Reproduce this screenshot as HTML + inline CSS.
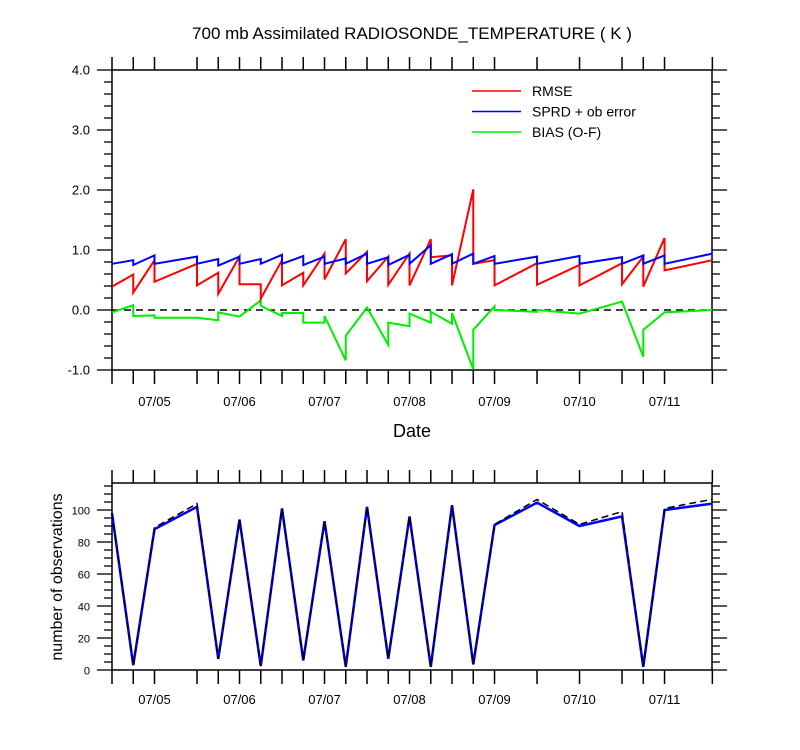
<!DOCTYPE html>
<html><head><meta charset="utf-8"><style>
body{margin:0;background:#fff;}
svg{display:block;font-family:"Liberation Sans",Arial,sans-serif;}
</style></head><body>
<svg id="chart" width="800" height="750" viewBox="0 0 800 750"></svg>
<script>
const times = [-12,-6,0,12,18,24,30,36,42,48,54,60,66,72,78,84,90,96,108,120,132,138,144,157.5];
const dayLabels = ["07/05","07/06","07/07","07/08","07/09","07/10","07/11"];
const rmseStart = [0.39,0.29,0.47,0.41,0.27,0.43,0.19,0.41,0.41,0.51,0.61,0.48,0.42,0.41,0.88,0.41,0.77,0.41,0.42,0.41,0.43,0.39,0.66];
const rmseEnd   = [0.59,0.83,0.77,0.62,0.89,0.43,0.83,0.62,0.94,1.18,0.97,0.89,0.94,1.18,0.91,2.01,0.83,0.78,0.75,0.78,0.89,1.20,0.83];
const sprdStart = [0.77,0.75,0.77,0.77,0.74,0.77,0.77,0.77,0.75,0.77,0.77,0.77,0.75,0.77,0.77,0.77,0.77,0.77,0.77,0.77,0.77,0.77,0.77];
const sprdEnd   = [0.83,0.91,0.89,0.85,0.89,0.85,0.92,0.90,0.89,0.86,0.94,0.88,0.92,1.08,0.93,0.94,0.90,0.89,0.90,0.88,0.91,0.91,0.94];
const biasStart = [-0.04,-0.10,-0.13,-0.13,-0.04,-0.11,0.07,-0.05,-0.21,-0.10,-0.43,0.04,-0.21,-0.06,-0.03,-0.05,-0.33,0.00,0.00,-0.06,0.14,-0.33,-0.04];
const biasEnd   = [0.08,-0.09,-0.13,-0.17,-0.11,0.16,-0.10,-0.05,-0.21,-0.84,0.04,-0.58,-0.27,-0.21,-0.23,-0.99,0.06,-0.03,-0.06,0.14,-0.78,-0.04,0.00];
const obsPossible = [98,3,89,104,7,94,2.5,101,6,93,2,102,7,96,2,103,3.5,91,106.6,91,99,2,101,106.7];
const obsUsed     = [98,3,88,102,7,94,2.5,101,6,93,2,102,7,96,2,103,3.5,90.6,104.6,90,96,2,100,104];
const topYTicks = [-1,0,1,2,3,4];
const botYTicks = [0,20,40,60,80,100];

const NS="http://www.w3.org/2000/svg";
const svg=document.getElementById('chart');
function el(tag,attrs,parent){const e=document.createElementNS(NS,tag);for(const k in attrs)e.setAttribute(k,attrs[k]);(parent||svg).appendChild(e);return e;}
const X0=112,X1=712,T0=-12,T1=157.4;
const xs=h=>X0+(h-T0)*(X1-X0)/(T1-T0);
const yTop=v=>310-v*60;
const yBot=v=>670-v*1.6;

const title=el('text',{x:412,y:39,'text-anchor':'middle','font-size':17});
title.textContent='700 mb Assimilated RADIOSONDE_TEMPERATURE ( K )';



function panel(name,yT,yB,ys,vmin,vmax,major,minor,ticks,fmt,fs,lblOff){
  const g=el('g',{});
  
  
  el('rect',{x:X0,y:yT,width:X1-X0,height:yB-yT,fill:'none',stroke:'#000','stroke-width':1.5},g);
  for(const t of times){
    el('line',{x1:xs(t),x2:xs(t),y1:yB,y2:yB+14,stroke:'#000','stroke-width':1.5},g);
    el('line',{x1:xs(t),x2:xs(t),y1:yT,y2:yT-13,stroke:'#000','stroke-width':1.5},g);
  }
  for(let v=vmin;v<=vmax+1e-9;v+=minor){
    const isMaj=Math.abs(v/major-Math.round(v/major))<1e-6;
    const L=isMaj?15:8, y=ys(v);
    el('line',{x1:X0-L,x2:X0,y1:y,y2:y,stroke:'#000','stroke-width':1.3},g);
    el('line',{x1:X1,x2:X1+L,y1:y,y2:y,stroke:'#000','stroke-width':1.3},g);
  }
  for(const v of ticks){
    const t=el('text',{x:X0-22,y:ys(v)+4.5,'text-anchor':'end','font-size':fs},g);
    t.textContent=fmt(v);
    
    
  }
  dayLabels.forEach((d,i)=>{
    const t=el('text',{x:xs(i*24),y:yB+lblOff,'text-anchor':'middle','font-size':13},g);
    t.textContent=d;
    
    
  });
  return g;
}
panel('top-panel',70,370,yTop,-1,4,1,0.2,topYTicks,v=>v.toFixed(1),13,36);
panel('bottom-panel',483,670,yBot,0,115,20,5,botYTicks,v=>String(v),11,34);

const zero=el('line',{x1:X0,x2:X1,y1:yTop(0),y2:yTop(0),stroke:'#000','stroke-width':1.5,'stroke-dasharray':'7,5'});



function sawtooth(name,st,en,color){
  const pts=[];
  for(let i=0;i<st.length;i++){pts.push(xs(times[i])+','+yTop(st[i]));pts.push(xs(times[i+1])+','+yTop(en[i]));}
  const p=el('polyline',{points:pts.join(' '),fill:'none',stroke:color,'stroke-width':2});
  
  
}
sawtooth('bias-line',biasStart,biasEnd,'#00ee00');
sawtooth('rmse-line',rmseStart,rmseEnd,'#ff0000');
sawtooth('spread-line',sprdStart,sprdEnd,'#0000ff');

const pu=el('polyline',{points:times.map((t,i)=>xs(t)+','+yBot(obsUsed[i])).join(' '),fill:'none',stroke:'#0000ff','stroke-width':2.5});


const pp=el('polyline',{points:times.map((t,i)=>xs(t)+','+yBot(obsPossible[i])).join(' '),fill:'none',stroke:'#000','stroke-width':1.5,'stroke-dasharray':'7,4'});



const leg=[['RMSE','#ff0000'],['SPRD + ob error','#0000ff'],['BIAS (O-F)','#00ee00']];
leg.forEach((l,i)=>{
  const g=el('g',{});
  
  
  const y=91+i*20.5;
  el('line',{x1:472,x2:521,y1:y,y2:y,stroke:l[1],'stroke-width':1.5},g);
  const t=el('text',{x:532,y:y+5,'font-size':14},g);t.textContent=l[0];
});

const dx=el('text',{x:412,y:437,'text-anchor':'middle','font-size':18});
dx.textContent='Date';


const yl=el('text',{x:62,y:577,'text-anchor':'middle','font-size':16,transform:'rotate(-90 62 577)'});
yl.textContent='number of observations';


</script>
</body></html>
